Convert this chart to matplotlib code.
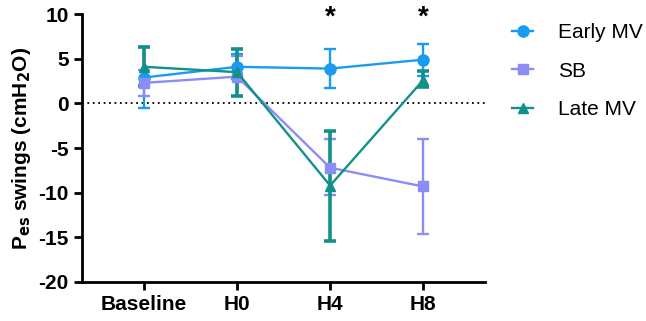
import numpy as np
import matplotlib
matplotlib.use("Agg")
import matplotlib.pyplot as plt
from matplotlib.container import ErrorbarContainer

plt.rcParams['font.family'] = ['Liberation Sans', 'DejaVu Sans']
plt.rcParams['axes.unicode_minus'] = False

timepoints = ['Baseline', 'H0', 'H4', 'H8']

early_mean = [2.9, 4.1, 3.9, 4.9]
early_low = [-0.5, 2.7, 1.7, 3.1]
early_high = [6.3, 5.5, 6.1, 6.7]

sb_mean = [2.3, 3.0, -7.2, -9.3]
sb_low = [0.8, 0.8, -10.3, -14.6]
sb_high = [3.7, 5.3, -4.0, -4.0]

late_mean = [4.1, 3.5, -9.2, 2.6]
late_low = [1.9, 0.8, -15.4, 1.8]
late_high = [6.3, 6.1, -3.1, 3.6]

star_points = ['H4', 'H8']

fig = plt.figure(figsize=(6.46, 3.21), dpi=100)
ax = fig.add_axes([0.127, 0.1215, 0.624, 0.8345])

x = np.arange(len(timepoints))


def draw(mean, low, high, color, marker, label, elw, ms):
    mean = np.array(mean)
    err = [mean - np.array(low), np.array(high) - mean]
    ax.errorbar(x, mean, yerr=err, color=color, marker=marker, ms=ms,
                lw=1.7, elinewidth=elw, capsize=4.5, capthick=elw,
                label=label, clip_on=False)


ax.axhline(0, color='black', ls=(0, (1, 2)), lw=1.3, zorder=1)
draw(early_mean, early_low, early_high, '#1a9bf0', 'o', 'Early MV', 1.7, 8)
draw(sb_mean, sb_low, sb_high, '#8c8cf8', 's', 'SB', 1.7, 7)
draw(late_mean, late_low, late_high, '#12918a', '^', 'Late MV', 2.6, 7)

for s in star_points:
    ax.text(timepoints.index(s), 9.6, '*', ha='center', va='center',
            fontsize=20, fontweight='bold')

ax.set_xlim(-0.667, 3.667)
ax.set_ylim(-20, 10)
ax.set_yticks([-20, -15, -10, -5, 0, 5, 10])
ax.set_xticks(x)
ax.set_xticklabels(timepoints)
for lab in ax.get_xticklabels() + ax.get_yticklabels():
    lab.set_fontweight('bold')
    lab.set_fontsize(15)
ax.tick_params(width=2, length=6)
ax.spines['top'].set_visible(False)
ax.spines['right'].set_visible(False)
ax.spines['left'].set_linewidth(2)
ax.spines['bottom'].set_linewidth(2)
ax.set_ylabel('P$_{\\mathbf{es}}$ swings (cmH$_{\\mathbf{2}}$O)',
              fontsize=15, fontweight='bold')

handles, labels = ax.get_legend_handles_labels()
handles = [h[0] if isinstance(h, ErrorbarContainer) else h for h in handles]
fig.legend(handles, labels, loc='upper left', bbox_to_anchor=(0.793, 0.928),
           frameon=False, fontsize=15, handlelength=1.0, handletextpad=1.2,
           labelspacing=0.94, borderpad=0, borderaxespad=0)

fig.savefig('out.png', dpi=100)
